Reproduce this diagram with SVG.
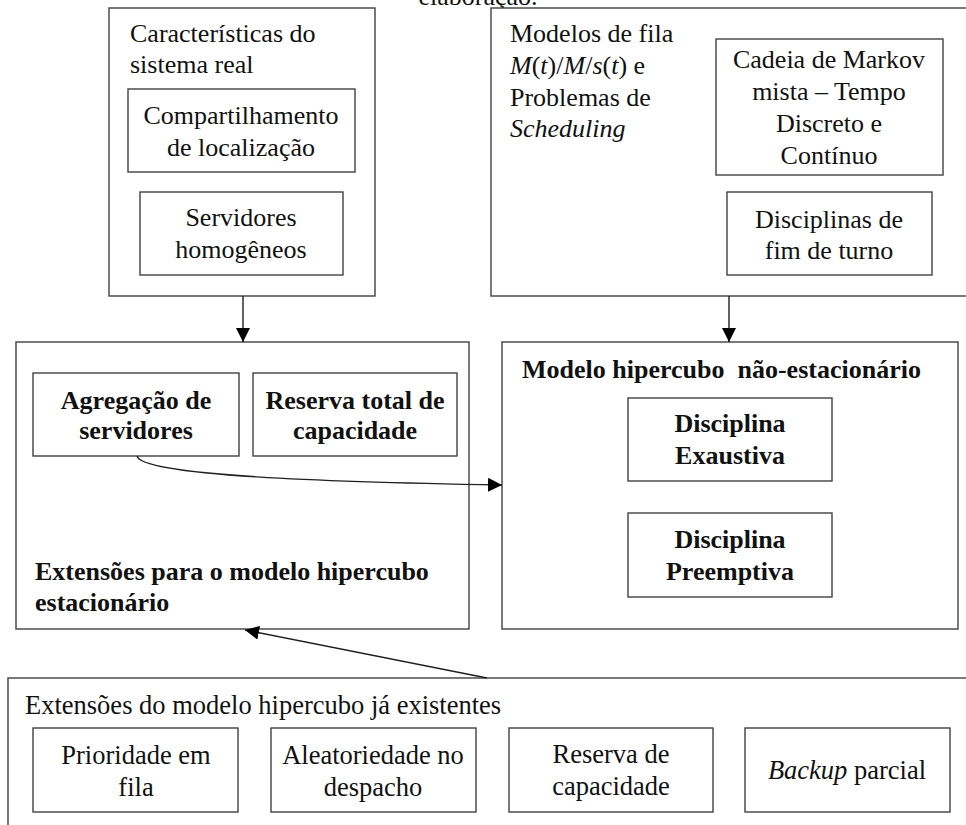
<svg xmlns="http://www.w3.org/2000/svg" width="966" height="825" viewBox="0 0 966 825">
  <style>
    .box { fill: #ffffff; stroke: #404040; stroke-width: 1.4; }
    text { font-family: 'Liberation Serif', 'DejaVu Serif', serif; font-size: 26px; fill: #111111; }
    .c { text-anchor: middle; }
    .b { font-weight: bold; }
    .i { font-style: italic; }
    .lg { font-size: 26.5px; }
    .wire { fill: none; stroke: #202020; stroke-width: 1.4; }
  </style>
  <defs>
    <marker id="arrow" viewBox="0 0 10 10" refX="10" refY="5" markerWidth="14" markerHeight="14" markerUnits="userSpaceOnUse" orient="auto">
      <path d="M0,0 L10,5 L0,10 Z" fill="#000000"/>
    </marker>
  </defs>

  <rect width="966" height="825" fill="#ffffff"/>

  <!-- caption tail, clipped by the top edge -->
  <text class="c" x="478" y="5">elaboração.</text>

  <!-- real-system characteristics -->
  <g id="caracteristicas">
    <rect class="box" x="109" y="8" width="266" height="288"/>
    <text x="130" y="42">Características do</text>
    <text x="130" y="73">sistema real</text>
    <g id="compartilhamento">
      <rect class="box" x="128" y="89" width="227" height="83"/>
      <text class="c" x="241" y="124">Compartilhamento</text>
      <text class="c" x="241" y="156">de localização</text>
    </g>
    <g id="servidores-homogeneos">
      <rect class="box" x="140" y="192" width="203" height="83"/>
      <text class="c" x="241" y="226">Servidores</text>
      <text class="c" x="241" y="258">homogêneos</text>
    </g>
  </g>

  <!-- queueing models -->
  <g id="modelos-fila">
    <rect class="box" x="491" y="8" width="480" height="288"/>
    <text x="510" y="42">Modelos de fila</text>
    <text x="510" y="74"><tspan class="i">M</tspan>(<tspan class="i">t</tspan>)/<tspan class="i">M</tspan>/<tspan class="i">s</tspan>(<tspan class="i">t</tspan>) e</text>
    <text x="510" y="106">Problemas de</text>
    <text class="i" x="510" y="137">Scheduling</text>
    <g id="cadeia-markov">
      <rect class="box" x="716" y="39" width="227" height="136"/>
      <text class="c" x="829" y="68">Cadeia de Markov</text>
      <text class="c" x="829" y="100">mista – Tempo</text>
      <text class="c" x="829" y="132">Discreto e</text>
      <text class="c" x="829" y="164">Contínuo</text>
    </g>
    <g id="disciplinas-fim-turno">
      <rect class="box" x="727" y="192" width="205" height="83"/>
      <text class="c" x="829" y="228">Disciplinas de</text>
      <text class="c" x="829" y="259">fim de turno</text>
    </g>
  </g>

  <!-- stationary hypercube extensions -->
  <g id="extensoes-estacionario">
    <rect class="box" x="16" y="342" width="453" height="287"/>
    <g id="agregacao">
      <rect class="box" x="33" y="373" width="206" height="83"/>
      <text class="c b" x="136" y="409">Agregação de</text>
      <text class="c b" x="136" y="439">servidores</text>
    </g>
    <g id="reserva-total">
      <rect class="box" x="253" y="373" width="204" height="83"/>
      <text class="c b" x="355" y="409">Reserva total de</text>
      <text class="c b" x="355" y="439">capacidade</text>
    </g>
    <text class="b" x="35" y="580">Extensões para o modelo hipercubo</text>
    <text class="b" x="35" y="611">estacionário</text>
  </g>

  <!-- non-stationary hypercube -->
  <g id="hipercubo-nao-estacionario">
    <rect class="box" x="502" y="342" width="456" height="287"/>
    <text class="b" x="522" y="378" xml:space="preserve">Modelo hipercubo  não-estacionário</text>
    <g id="exaustiva">
      <rect class="box" x="628" y="398" width="204" height="83"/>
      <text class="c b" x="730" y="432">Disciplina</text>
      <text class="c b" x="730" y="464">Exaustiva</text>
    </g>
    <g id="preemptiva">
      <rect class="box" x="628" y="513" width="204" height="84"/>
      <text class="c b" x="730" y="548">Disciplina</text>
      <text class="c b" x="730" y="580">Preemptiva</text>
    </g>
  </g>

  <!-- existing hypercube extensions -->
  <g id="extensoes-existentes">
    <rect class="box" x="8" y="678" width="970" height="160"/>
    <text class="lg" x="25" y="714">Extensões do modelo hipercubo já existentes</text>
    <g id="prioridade">
      <rect class="box" x="33" y="728" width="205" height="84"/>
      <text class="c lg" x="136" y="764">Prioridade em</text>
      <text class="c lg" x="136" y="796">fila</text>
    </g>
    <g id="aleatoriedade">
      <rect class="box" x="271" y="728" width="205" height="84"/>
      <text class="c lg" x="373" y="764">Aleatoriedade no</text>
      <text class="c lg" x="373" y="796">despacho</text>
    </g>
    <g id="reserva-capacidade">
      <rect class="box" x="509" y="728" width="204" height="84"/>
      <text class="c lg" x="611" y="763">Reserva de</text>
      <text class="c lg" x="611" y="795">capacidade</text>
    </g>
    <g id="backup-parcial">
      <rect class="box" x="745" y="728" width="205" height="84"/>
      <text class="c lg" x="847" y="779"><tspan class="i">Backup</tspan> parcial</text>
    </g>
  </g>

  <!-- connectors -->
  <g id="connectors">
    <path class="wire" d="M243,296 L243,342" marker-end="url(#arrow)"/>
    <path class="wire" d="M729,296 L729,342" marker-end="url(#arrow)"/>
    <path class="wire" d="M137,456 C142,476 330,482 502,485" marker-end="url(#arrow)"/>
    <path class="wire" d="M487,678 L245,630" marker-end="url(#arrow)"/>
  </g>
</svg>
